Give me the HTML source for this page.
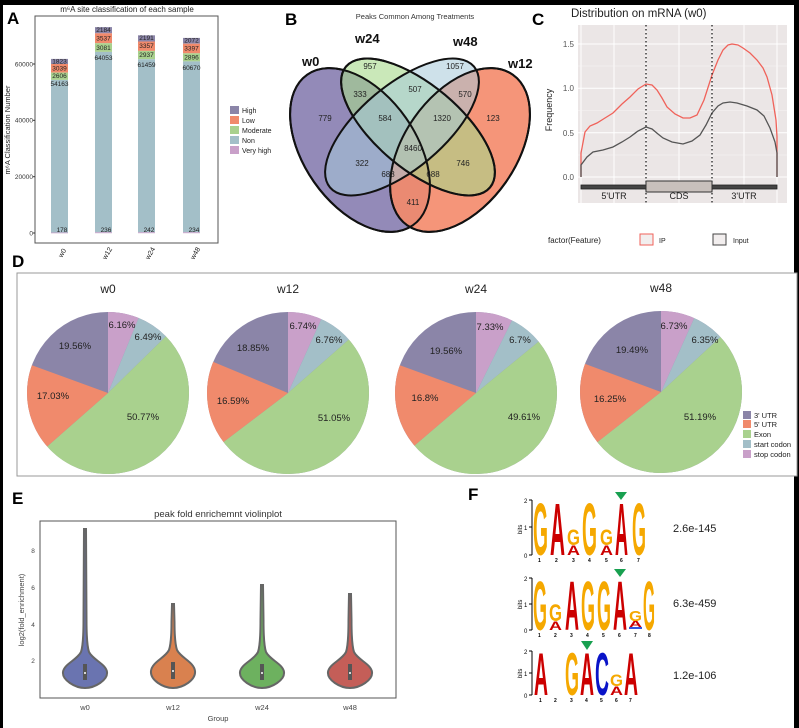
<!DOCTYPE html>
<html><head><meta charset="utf-8"><style>
html,body{margin:0;padding:0;background:#fff;}
svg{display:block;font-family:"Liberation Sans",sans-serif;}
</style></head><body>
<svg width="799" height="728" viewBox="0 0 799 728" xmlns="http://www.w3.org/2000/svg">
<rect width="799" height="728" fill="#fff"/>
<rect x="0" y="0" width="799" height="5" fill="#000"/>
<rect x="0" y="0" width="3" height="728" fill="#000"/>
<rect x="794" y="0" width="5" height="728" fill="#000"/>

<g font-weight="bold" font-size="17" fill="#000">
<text x="7" y="24">A</text><text x="285" y="25">B</text><text x="532" y="25">C</text>
<text x="12" y="267">D</text><text x="12" y="504">E</text><text x="468" y="500">F</text>
</g>

<!-- Panel A -->
<text x="127" y="12" font-size="8" text-anchor="middle" fill="#222">m⁶A site classification of each sample</text>
<rect x="35" y="16" width="183" height="227" fill="#fff" stroke="#555" stroke-width="1"/>
<g font-size="6.5" fill="#333" text-anchor="end">
<text x="33" y="235.5">0</text><text x="33" y="179">20000</text><text x="33" y="122.5">40000</text><text x="33" y="66.5">60000</text>
</g>
<g stroke="#333"><line x1="33" y1="233" x2="35" y2="233"/><line x1="33" y1="176.7" x2="35" y2="176.7"/><line x1="33" y1="120.3" x2="35" y2="120.3"/><line x1="33" y1="64" x2="35" y2="64"/></g>
<text transform="translate(10,130) rotate(-90)" font-size="7.5" text-anchor="middle" fill="#222">m⁶A Classification Number</text>
<g>
<rect x="51" y="58.9" width="17" height="5.1" fill="#8b85a8"/><rect x="51" y="64" width="17" height="8.6" fill="#f08a6c"/><rect x="51" y="72.6" width="17" height="7.3" fill="#a9d18e"/><rect x="51" y="79.9" width="17" height="152.6" fill="#a3bfc8"/><rect x="51" y="232.5" width="17" height="0.8" fill="#c9a0c9"/>
<rect x="95" y="27.1" width="17" height="6.2" fill="#8b85a8"/><rect x="95" y="33.3" width="17" height="9.9" fill="#f08a6c"/><rect x="95" y="43.2" width="17" height="8.7" fill="#a9d18e"/><rect x="95" y="51.9" width="17" height="180.4" fill="#a3bfc8"/><rect x="95" y="232.3" width="17" height="0.9" fill="#c9a0c9"/>
<rect x="138" y="35.3" width="17" height="6.2" fill="#8b85a8"/><rect x="138" y="41.5" width="17" height="9.4" fill="#f08a6c"/><rect x="138" y="50.9" width="17" height="8.3" fill="#a9d18e"/><rect x="138" y="59.2" width="17" height="173.1" fill="#a3bfc8"/><rect x="138" y="232.3" width="17" height="0.9" fill="#c9a0c9"/>
<rect x="183" y="37.9" width="17" height="5.8" fill="#8b85a8"/><rect x="183" y="43.7" width="17" height="9.6" fill="#f08a6c"/><rect x="183" y="53.3" width="17" height="8.1" fill="#a9d18e"/><rect x="183" y="61.4" width="17" height="170.9" fill="#a3bfc8"/><rect x="183" y="232.3" width="17" height="0.9" fill="#c9a0c9"/>
</g>
<g font-size="6.5" fill="#222" text-anchor="middle">
<text x="59.5" y="63.5">1823</text><text x="59.5" y="70.5">3039</text><text x="59.5" y="78">2606</text><text x="59.5" y="86">54163</text><text x="62" y="232">178</text>
<text x="103.5" y="32">2184</text><text x="103.5" y="40.5">3537</text><text x="103.5" y="50">3081</text><text x="103.5" y="60">64053</text><text x="106" y="232">236</text>
<text x="146.5" y="40">2191</text><text x="146.5" y="48">3357</text><text x="146.5" y="57">2937</text><text x="146.5" y="67">61459</text><text x="149" y="232">242</text>
<text x="191.5" y="42.5">2072</text><text x="191.5" y="50.5">3397</text><text x="191.5" y="59.5">2896</text><text x="191.5" y="70">60670</text><text x="194" y="232">234</text>
</g>
<g font-size="7" fill="#222">
<text transform="translate(62,258) rotate(-60)">w0</text><text transform="translate(106,260) rotate(-60)">w12</text><text transform="translate(149,260) rotate(-60)">w24</text><text transform="translate(194,260) rotate(-60)">w48</text>
</g>
<g font-size="7" fill="#222">
<rect x="230" y="106" width="9" height="8" fill="#8b85a8"/><text x="242" y="113">High</text>
<rect x="230" y="116" width="9" height="8" fill="#f08a6c"/><text x="242" y="123">Low</text>
<rect x="230" y="126" width="9" height="8" fill="#a9d18e"/><text x="242" y="133">Moderate</text>
<rect x="230" y="136" width="9" height="8" fill="#a3bfc8"/><text x="242" y="143">Non</text>
<rect x="230" y="146" width="9" height="8" fill="#c9a0c9"/><text x="242" y="153">Very high</text>
</g>

<!-- Panel B Venn -->
<text x="415" y="19" font-size="7.5" text-anchor="middle" fill="#333">Peaks Common Among Treatments</text>
<g stroke="#111" stroke-width="2">
<ellipse cx="360" cy="150" rx="92" ry="56" transform="rotate(55 360 150)" fill="#8d84b4" fill-opacity="0.95"/>
<ellipse cx="460" cy="150" rx="92" ry="56" transform="rotate(-55 460 150)" fill="#f4896a" fill-opacity="0.9"/>
<ellipse cx="418" cy="127" rx="94" ry="42" transform="rotate(40 418 127)" fill="#a6d98a" fill-opacity="0.6"/>
<ellipse cx="402" cy="127" rx="94" ry="42" transform="rotate(-40 402 127)" fill="#a6c8d8" fill-opacity="0.55"/>
</g>
<g fill="none" stroke="#111" stroke-width="2">
<ellipse cx="360" cy="150" rx="92" ry="56" transform="rotate(55 360 150)"/>
<ellipse cx="460" cy="150" rx="92" ry="56" transform="rotate(-55 460 150)"/>
<ellipse cx="418" cy="127" rx="94" ry="42" transform="rotate(40 418 127)"/>
</g>
<g font-size="8" fill="#222" text-anchor="middle">
<text x="370" y="69">957</text><text x="455" y="69">1057</text><text x="415" y="92">507</text><text x="360" y="97">333</text><text x="465" y="97">570</text>
<text x="325" y="121">779</text><text x="385" y="121">584</text><text x="442" y="121">1320</text><text x="493" y="121">123</text>
<text x="413" y="151">8460</text><text x="362" y="166">322</text><text x="463" y="166">746</text><text x="388" y="177">688</text><text x="433" y="177">688</text><text x="413" y="205">411</text>
</g>
<g font-size="13" font-weight="bold" fill="#111">
<text x="302" y="66">w0</text><text x="355" y="43">w24</text><text x="453" y="46">w48</text><text x="508" y="68">w12</text>
</g>

<!-- Panel C -->
<text x="571" y="17" font-size="11.5" fill="#222">Distribution on mRNA (w0)</text>
<rect x="578" y="25" width="209" height="178" fill="#ebe6e6"/>
<g stroke="#fff" stroke-width="1">
<line x1="578" y1="177" x2="787" y2="177"/><line x1="578" y1="132.7" x2="787" y2="132.7"/><line x1="578" y1="88.3" x2="787" y2="88.3"/><line x1="578" y1="44" x2="787" y2="44"/>
<line x1="581" y1="25" x2="581" y2="203"/><line x1="614" y1="25" x2="614" y2="203"/><line x1="646" y1="25" x2="646" y2="203"/><line x1="679" y1="25" x2="679" y2="203"/><line x1="712" y1="25" x2="712" y2="203"/><line x1="744" y1="25" x2="744" y2="203"/><line x1="777" y1="25" x2="777" y2="203"/>
</g>
<g stroke="#f7f4f4" stroke-width="0.6"><line x1="578" y1="155" x2="787" y2="155"/><line x1="578" y1="110.5" x2="787" y2="110.5"/><line x1="578" y1="66" x2="787" y2="66"/></g>
<g font-size="8" fill="#555" text-anchor="end">
<text x="574" y="180">0.0</text><text x="574" y="136">0.5</text><text x="574" y="91">1.0</text><text x="574" y="47">1.5</text>
</g>
<text transform="translate(552,110) rotate(-90)" font-size="9" text-anchor="middle" fill="#222">Frequency</text>
<polyline fill="none" stroke="#f0625a" stroke-width="1.3" points="581,177 581,153 585,132 590,126 597,123 605,118 613,113 622,104 630,97 638,89 646,84 652,85 657,90 662,98 667,107 675,114 683,118 690,118 697,115 704,100 712,75 718,60 723,50 728,45 732,44 738,45 743,48 750,53 757,60 763,68 767,77 772,95 776,120 777,137 777,177"/>
<polyline fill="none" stroke="#555" stroke-width="1.3" points="581,177 581,165 587,157 593,152 603,150 613,147 622,142 630,137 638,131 646,127 652,129 658,134 663,138 672,142 683,144 692,141 700,135 706,125 712,113 718,106 723,103 730,102 737,103 747,106 757,110 764,116 770,128 775,142 777,153 777,177"/>
<g stroke="#111" stroke-width="1.2" stroke-dasharray="1.5,2.5"><line x1="646" y1="25" x2="646" y2="205"/><line x1="712" y1="25" x2="712" y2="205"/></g>
<rect x="581" y="185" width="196" height="4" fill="#444" stroke="#222" stroke-width="0.8"/>
<rect x="646" y="181" width="66" height="11" fill="#c8c0bc" stroke="#333" stroke-width="1"/>
<g font-size="9" fill="#222" text-anchor="middle"><text x="614" y="199">5'UTR</text><text x="679" y="199">CDS</text><text x="744" y="199">3'UTR</text></g>
<text x="548" y="243" font-size="8" fill="#222">factor(Feature)</text>
<rect x="640" y="234" width="13" height="11" fill="#f2eeee" stroke="#f0625a" stroke-width="1"/><text x="659" y="243" font-size="7" fill="#222">IP</text>
<rect x="713" y="234" width="13" height="11" fill="#f2eeee" stroke="#444" stroke-width="1"/><text x="733" y="243" font-size="7" fill="#222">Input</text>

<!-- Panel D -->
<rect x="17" y="273" width="780" height="203" fill="#fff" stroke="#999" stroke-width="1"/>
<g font-size="12" fill="#222" text-anchor="middle"><text x="108" y="293">w0</text><text x="288" y="293">w12</text><text x="476" y="293">w24</text><text x="661" y="292">w48</text></g>
<g fill="none" stroke-width="81">
<g transform="rotate(-90 108 393)">
<circle cx="108" cy="393" r="40.5" stroke="#8b85a8"/>
<circle cx="108" cy="393" r="40.5" stroke="#c9a0c9" stroke-dasharray="15.68 300" stroke-dashoffset="0"/>
<circle cx="108" cy="393" r="40.5" stroke="#a3bfc8" stroke-dasharray="16.52 300" stroke-dashoffset="-15.68"/>
<circle cx="108" cy="393" r="40.5" stroke="#a9d18e" stroke-dasharray="129.19 300" stroke-dashoffset="-32.2"/>
<circle cx="108" cy="393" r="40.5" stroke="#f08a6c" stroke-dasharray="43.34 300" stroke-dashoffset="-161.39"/>
</g>
<g transform="rotate(-90 288 393)">
<circle cx="288" cy="393" r="40.5" stroke="#8b85a8"/>
<circle cx="288" cy="393" r="40.5" stroke="#c9a0c9" stroke-dasharray="17.15 300" stroke-dashoffset="0"/>
<circle cx="288" cy="393" r="40.5" stroke="#a3bfc8" stroke-dasharray="17.2 300" stroke-dashoffset="-17.15"/>
<circle cx="288" cy="393" r="40.5" stroke="#a9d18e" stroke-dasharray="129.91 300" stroke-dashoffset="-34.35"/>
<circle cx="288" cy="393" r="40.5" stroke="#f08a6c" stroke-dasharray="42.22 300" stroke-dashoffset="-164.26"/>
</g>
<g transform="rotate(-90 476 393)">
<circle cx="476" cy="393" r="40.5" stroke="#8b85a8"/>
<circle cx="476" cy="393" r="40.5" stroke="#c9a0c9" stroke-dasharray="18.65 300" stroke-dashoffset="0"/>
<circle cx="476" cy="393" r="40.5" stroke="#a3bfc8" stroke-dasharray="17.05 300" stroke-dashoffset="-18.65"/>
<circle cx="476" cy="393" r="40.5" stroke="#a9d18e" stroke-dasharray="126.24 300" stroke-dashoffset="-35.7"/>
<circle cx="476" cy="393" r="40.5" stroke="#f08a6c" stroke-dasharray="42.75 300" stroke-dashoffset="-161.94"/>
</g>
<g transform="rotate(-90 661 392)">
<circle cx="661" cy="392" r="40.5" stroke="#8b85a8"/>
<circle cx="661" cy="392" r="40.5" stroke="#c9a0c9" stroke-dasharray="17.13 300" stroke-dashoffset="0"/>
<circle cx="661" cy="392" r="40.5" stroke="#a3bfc8" stroke-dasharray="16.16 300" stroke-dashoffset="-17.13"/>
<circle cx="661" cy="392" r="40.5" stroke="#a9d18e" stroke-dasharray="130.26 300" stroke-dashoffset="-33.29"/>
<circle cx="661" cy="392" r="40.5" stroke="#f08a6c" stroke-dasharray="41.35 300" stroke-dashoffset="-163.55"/>
</g>
</g>
<g font-size="9.5" fill="#222" text-anchor="middle">
<text x="122" y="328">6.16%</text><text x="148" y="340">6.49%</text><text x="75" y="349">19.56%</text><text x="53" y="399">17.03%</text><text x="143" y="420">50.77%</text>
<text x="303" y="329">6.74%</text><text x="329" y="343">6.76%</text><text x="253" y="351">18.85%</text><text x="233" y="404">16.59%</text><text x="334" y="421">51.05%</text>
<text x="490" y="330">7.33%</text><text x="520" y="343">6.7%</text><text x="446" y="354">19.56%</text><text x="425" y="401">16.8%</text><text x="524" y="420">49.61%</text>
<text x="674" y="329">6.73%</text><text x="705" y="343">6.35%</text><text x="632" y="353">19.49%</text><text x="610" y="402">16.25%</text><text x="700" y="420">51.19%</text>
</g>
<g font-size="7.5" fill="#222">
<rect x="743" y="411" width="8" height="8" fill="#8b85a8"/><text x="754" y="418">3' UTR</text>
<rect x="743" y="420" width="8" height="8" fill="#f08a6c"/><text x="754" y="427">5' UTR</text>
<rect x="743" y="430" width="8" height="8" fill="#a9d18e"/><text x="754" y="437">Exon</text>
<rect x="743" y="440" width="8" height="8" fill="#a3bfc8"/><text x="754" y="447">start codon</text>
<rect x="743" y="450" width="8" height="8" fill="#c9a0c9"/><text x="754" y="457">stop codon</text>
</g>

<!-- Panel E -->
<text x="218" y="517" font-size="9.5" text-anchor="middle" fill="#333">peak fold enrichemnt violinplot</text>
<rect x="40" y="521" width="356" height="177" fill="#fff" stroke="#555" stroke-width="1"/>
<g font-size="6.5" fill="#444" text-anchor="middle"><text x="33" y="663">2</text><text x="33" y="627">4</text><text x="33" y="590">6</text><text x="33" y="553">8</text></g>
<text transform="translate(24,610) rotate(-90)" font-size="7.5" text-anchor="middle" fill="#444">log2(fold_enrichment)</text>
<g stroke="#666" stroke-width="2">
<path d="M85,688 C95,688 108,680 107,672 C106,664 93,660 89,652 C87,646 86.5,630 86.5,620 L86,529 L84,529 L83.5,620 C83.5,630 83,646 81,652 C77,660 64,664 63,672 C62,680 75,688 85,688Z" fill="#6a74b0"/>
<path d="M173,688 C183,688 196,680 195,671 C194,662 181,658 177,650 C175,644 174.5,630 174.5,622 L174,604 L172,604 L171.5,622 C171.5,630 171,644 169,650 C165,658 152,662 151,671 C150,680 163,688 173,688Z" fill="#d9814f"/>
<path d="M262,688 C272,688 285,680 284,672 C283,664 270,660 266,652 C264,646 263.5,630 263.5,620 L263,585 L261,585 L260.5,620 C260.5,630 260,646 258,652 C254,660 241,664 240,672 C239,680 252,688 262,688Z" fill="#6db15f"/>
<path d="M350,688 C360,688 373,680 372,672 C371,664 358,660 354,652 C352,646 351.5,630 351.5,620 L351,594 L349,594 L348.5,620 C348.5,630 348,646 346,652 C342,660 329,664 328,672 C327,680 340,688 350,688Z" fill="#c45e58"/>
</g>
<g fill="#555"><rect x="83" y="664" width="4" height="16"/><rect x="171" y="662" width="4" height="17"/><rect x="260" y="664" width="4" height="16"/><rect x="348" y="664" width="4" height="16"/></g>
<g fill="#fff"><circle cx="85" cy="673" r="1"/><circle cx="173" cy="671" r="1"/><circle cx="262" cy="673" r="1"/><circle cx="350" cy="673" r="1"/></g>
<g font-size="7.5" fill="#444" text-anchor="middle"><text x="85" y="710">w0</text><text x="173" y="710">w12</text><text x="262" y="710">w24</text><text x="350" y="710">w48</text><text x="218" y="721">Group</text></g>

<!-- Panel F logos -->
<g font-family="Liberation Sans, sans-serif" font-weight="bold">
<g stroke="#000" stroke-width="1"><line x1="532" y1="500" x2="532" y2="555"/><line x1="529" y1="500" x2="532" y2="500"/><line x1="529" y1="527" x2="532" y2="527"/><line x1="529" y1="555" x2="532" y2="555"/></g>
<g font-size="6" font-weight="normal" fill="#000"><text x="524" y="503">2</text><text x="524" y="530">1</text><text x="524" y="558">0</text><text transform="translate(522,534) rotate(-90)">bits</text></g>
<g font-size="10">
<text transform="translate(533,555) scale(1,7.4)" fill="#f5a800" textLength="15" lengthAdjust="spacingAndGlyphs">G</text>
<text transform="translate(550,555) scale(1,7.4)" fill="#cc0000" textLength="15" lengthAdjust="spacingAndGlyphs">A</text>
<text transform="translate(567,555) scale(1,1.4)" fill="#cc0000" textLength="13" lengthAdjust="spacingAndGlyphs">A</text>
<text transform="translate(567,545) scale(1,2.2)" fill="#f5a800" textLength="13" lengthAdjust="spacingAndGlyphs">G</text>
<text transform="translate(582,555) scale(1,7.4)" fill="#f5a800" textLength="15" lengthAdjust="spacingAndGlyphs">G</text>
<text transform="translate(600,555) scale(1,1.4)" fill="#cc0000" textLength="13" lengthAdjust="spacingAndGlyphs">A</text>
<text transform="translate(600,545) scale(1,2.2)" fill="#f5a800" textLength="13" lengthAdjust="spacingAndGlyphs">G</text>
<text transform="translate(615,555) scale(1,7.4)" fill="#cc0000" textLength="13" lengthAdjust="spacingAndGlyphs">A</text>
<text transform="translate(632,555) scale(1,7.4)" fill="#f5a800" textLength="14" lengthAdjust="spacingAndGlyphs">G</text>
</g>
<polygon points="615,492 627,492 621,500" fill="#18a050"/>
<g stroke="#000" stroke-width="1"><line x1="532" y1="578" x2="532" y2="630"/><line x1="529" y1="578" x2="532" y2="578"/><line x1="529" y1="604" x2="532" y2="604"/><line x1="529" y1="630" x2="532" y2="630"/></g>
<g font-size="6" font-weight="normal" fill="#000"><text x="524" y="581">2</text><text x="524" y="607">1</text><text x="524" y="633">0</text><text transform="translate(522,609) rotate(-90)">bits</text></g>
<g font-size="10">
<text transform="translate(533,630) scale(1,7)" fill="#f5a800" textLength="14" lengthAdjust="spacingAndGlyphs">G</text>
<text transform="translate(549,630) scale(1,1.2)" fill="#cc0000" textLength="13" lengthAdjust="spacingAndGlyphs">A</text>
<text transform="translate(549,621) scale(1,2.4)" fill="#f5a800" textLength="13" lengthAdjust="spacingAndGlyphs">G</text>
<text transform="translate(565,630) scale(1,7)" fill="#cc0000" textLength="14" lengthAdjust="spacingAndGlyphs">A</text>
<text transform="translate(581,630) scale(1,7)" fill="#f5a800" textLength="14" lengthAdjust="spacingAndGlyphs">G</text>
<text transform="translate(597,630) scale(1,7)" fill="#f5a800" textLength="14" lengthAdjust="spacingAndGlyphs">G</text>
<text transform="translate(613,630) scale(1,7)" fill="#cc0000" textLength="14" lengthAdjust="spacingAndGlyphs">A</text>
<rect x="629" y="627" width="13" height="2" fill="#3355dd"/>
<text transform="translate(629,627) scale(1,0.9)" fill="#cc0000" textLength="13" lengthAdjust="spacingAndGlyphs">A</text>
<text transform="translate(629,621) scale(1,1.5)" fill="#f5a800" textLength="13" lengthAdjust="spacingAndGlyphs">G</text>
<text transform="translate(643,630) scale(1,7)" fill="#f5a800" textLength="12" lengthAdjust="spacingAndGlyphs">G</text>
</g>
<polygon points="614,569 626,569 620,577" fill="#18a050"/>
<g stroke="#000" stroke-width="1"><line x1="532" y1="651" x2="532" y2="695"/><line x1="529" y1="651" x2="532" y2="651"/><line x1="529" y1="673" x2="532" y2="673"/><line x1="529" y1="695" x2="532" y2="695"/></g>
<g font-size="6" font-weight="normal" fill="#000"><text x="524" y="654">2</text><text x="524" y="676">1</text><text x="524" y="698">0</text><text transform="translate(522,678) rotate(-90)">bits</text></g>
<g font-size="10">
<text transform="translate(534,695) scale(1,6)" fill="#cc0000" textLength="14" lengthAdjust="spacingAndGlyphs">A</text>
<text transform="translate(565,695) scale(1,6)" fill="#f5a800" textLength="14" lengthAdjust="spacingAndGlyphs">G</text>
<text transform="translate(580,695) scale(1,6)" fill="#cc0000" textLength="14" lengthAdjust="spacingAndGlyphs">A</text>
<text transform="translate(595,695) scale(1,6)" fill="#0a14c8" textLength="14" lengthAdjust="spacingAndGlyphs">C</text>
<text transform="translate(610,695) scale(1,1.2)" fill="#cc0000" textLength="13" lengthAdjust="spacingAndGlyphs">A</text>
<text transform="translate(610,686) scale(1,1.7)" fill="#f5a800" textLength="13" lengthAdjust="spacingAndGlyphs">G</text>
<text transform="translate(624,695) scale(1,6)" fill="#cc0000" textLength="14" lengthAdjust="spacingAndGlyphs">A</text>
</g>
<polygon points="581,641 593,641 587,650" fill="#18a050"/>
</g>
<g font-size="5" fill="#000" font-weight="bold">
<text x="538" y="562">1</text><text x="555" y="562">2</text><text x="572" y="562">3</text><text x="588" y="562">4</text><text x="605" y="562">5</text><text x="620" y="562">6</text><text x="637" y="562">7</text>
<text x="538" y="637">1</text><text x="554" y="637">2</text><text x="570" y="637">3</text><text x="586" y="637">4</text><text x="602" y="637">5</text><text x="618" y="637">6</text><text x="634" y="637">7</text><text x="648" y="637">8</text>
<text x="539" y="702">1</text><text x="554" y="702">2</text><text x="570" y="702">3</text><text x="585" y="702">4</text><text x="600" y="702">5</text><text x="615" y="702">6</text><text x="629" y="702">7</text>
</g>
<g font-size="11" fill="#222"><text x="673" y="532">2.6e-145</text><text x="673" y="607">6.3e-459</text><text x="673" y="679">1.2e-106</text></g>
</svg>
</body></html>
